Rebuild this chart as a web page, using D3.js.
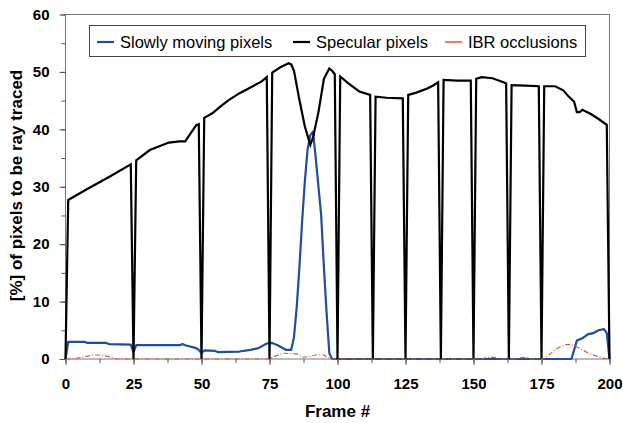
<!DOCTYPE html>
<html>
<head>
<meta charset="utf-8">
<script src="https://cdn.jsdelivr.net/npm/d3@7"></script>
<style>
    body { margin: 0; background: #fff; }
    text { font-family: "Liberation Sans", Arial, sans-serif; }
</style>
</head>
<body>
<script>
// data
var seriesNames = ["Slowly moving pixels", "Specular pixels", "IBR occlusions"];

var slowFrames = [0,1,7,8,15,16,24,25,26,42,43,44,48,49,50,51,55,56,64,68,71,74,76,78,81,83,84,85,86,87,88,89,90,91,92,93,94,95,96,97,98,186,188,190,192,194,196,198,199,200];
var slowValues = [0,3.0,3.0,2.8,2.8,2.6,2.5,1.2,2.4,2.4,2.6,2.4,1.9,1.6,1.0,1.5,1.4,1.2,1.3,1.6,1.9,2.7,2.8,2.4,1.6,1.6,3.8,9,16,24,31,36.5,39,39.6,35,30,25,16,8,1,0,0,3.2,3.6,4.3,4.5,5.0,5.2,4.5,0];

var specFrames = [0,1,8,16,24,25,26,31,38,42,44,46,48,49,50,51,54,57,60,64,68,72,74,75,76,79,82,83,84,86,88,90,91,93,95,97,98,99,100,101,104,108,112,113,114,118,124,125,126,129,133,135,137,138,139,144,149,150,151,153,157,161,162,163,164,169,174,175,176,180,183,185,187,188,189,190,193,196,199,200];
var specValues = [0,27.7,29.6,31.7,33.9,0,34.6,36.4,37.7,37.9,37.9,39.3,40.7,40.9,0,42.0,42.8,44.0,45.1,46.3,47.3,48.3,49.1,0,49.9,50.8,51.5,51.3,50.2,45.1,40.5,37.3,38.6,43.0,48.8,50.6,50.2,49.6,0,49.2,48.0,46.6,46.0,0,45.7,45.5,45.4,0,46.0,46.4,47.1,47.6,48.2,0,48.6,48.5,48.5,0,48.8,49.1,48.9,48.2,48.0,0,47.7,47.6,47.5,0,47.5,47.5,46.8,45.7,44.8,43.0,43.0,43.4,42.7,41.8,40.8,0];

var ibrFrames = [0,3,6,10,13,16,19,75,77,80,85,87,89,92,95,97,98,153,155,158,160,166,167,170,171,176,178,180,182,184,186,188,190,192,194,196,198,200];
var ibrValues = [0,0,0.3,0.7,0.7,0.4,0,0,0.5,1.0,0.9,0.3,0.4,0.7,0.7,0.1,0,0,0.3,0.3,0,0,0.25,0.25,0,0,0.8,1.6,2.2,2.5,2.5,2.1,1.6,1.1,0.7,0.4,0.1,0];

var xMajorTicks = [0,25,50,75,100,125,150,175,200];
var yMajorTicks = [0,10,20,30,40,50,60];

var width = 623;
var height = 423;
var margin = {top: 14.5, right: 13.5, bottom: 64, left: 65.5};
var innerWidth = width - margin.left - margin.right;
var innerHeight = height - margin.top - margin.bottom;

var colors = ["#1f4e9a", "#000000", "#e0553a"];

//Scales
var x = d3.scaleLinear().domain([0, 200]).range([0, innerWidth]);
var y = d3.scaleLinear().domain([0, 60]).range([innerHeight, 0]);

//Canvas
var svg = d3.select("body")
    .append("svg")
        .attr("width", width)
        .attr("height", height);

var g = svg.append("g")
    .attr("transform", "translate(" + margin.left + ", " + margin.top + ")");

// plot frame
g.append("rect")
    .attr("x", 0)
    .attr("y", 0)
    .attr("width", innerWidth)
    .attr("height", innerHeight)
    .attr("fill", "none")
    .attr("stroke", "#777")
    .attr("stroke-width", 1);

//Axes
var minorX = d3.range(0, 201, 12.5);
var minorY = d3.range(0, 61, 5);

g.append("g")
    .attr("class", "x-minor")
    .attr("transform", "translate(0, " + innerHeight + ")")
    .call(d3.axisBottom(x).tickValues(minorX).tickSize(4))
    .selectAll("text").remove();

g.append("g")
    .attr("class", "x-axis")
    .attr("transform", "translate(0, " + innerHeight + ")")
    .call(d3.axisBottom(x).tickValues(xMajorTicks).tickSize(6).tickPadding(13))
    .selectAll("text")
        .attr("font-size", 15)
        .attr("font-weight", "bold")
        .attr("fill", "#000");

g.append("g")
    .attr("class", "y-minor")
    .call(d3.axisLeft(y).tickValues(minorY).tickSize(4))
    .selectAll("text").remove();

g.append("g")
    .attr("class", "y-axis")
    .call(d3.axisLeft(y).tickValues(yMajorTicks).tickSize(6).tickPadding(10))
    .selectAll("text")
        .attr("font-size", 15)
        .attr("font-weight", "bold")
        .attr("fill", "#000");

g.selectAll(".domain").remove();
g.selectAll(".tick line").attr("stroke", "#555");

g.append("text")
    .attr("x", innerWidth / 2)
    .attr("y", 417 - margin.top)
    .attr("text-anchor", "middle")
    .attr("font-size", 17)
    .attr("font-weight", "bold")
    .text("Frame #");

g.append("text")
    .attr("transform", "rotate(-90)")
    .attr("x", -(185.5 - margin.top))
    .attr("y", 22 - margin.left)
    .attr("text-anchor", "middle")
    .attr("font-size", 17)
    .attr("font-weight", "bold")
    .text("[%] of pixels to be ray traced");

//Lines
function pairs(frames, values) {
    return frames.map((f, i) => ({frame: f, value: values[i]}));
}

var line = d3.line()
    .x(d => x(d.frame))
    .y(d => y(d.value));

g.append("path")
    .datum(pairs(slowFrames, slowValues))
    .attr("fill", "none")
    .attr("stroke", colors[0])
    .attr("stroke-width", 2.2)
    .attr("stroke-linejoin", "round")
    .attr("d", line);

g.append("path")
    .datum(pairs(specFrames, specValues))
    .attr("fill", "none")
    .attr("stroke", colors[1])
    .attr("stroke-width", 2.2)
    .attr("stroke-linejoin", "miter")
    .attr("d", line);

g.append("path")
    .datum(pairs(ibrFrames, ibrValues))
    .attr("fill", "none")
    .attr("stroke", colors[2])
    .attr("stroke-width", 1.2)
    .attr("stroke-dasharray", "5,2,1,2")
    .attr("d", line);

//Legend
var legend = svg.append("g").attr("class", "legend");

legend.append("rect")
    .attr("x", 89.5)
    .attr("y", 25.5)
    .attr("width", 496)
    .attr("height", 31)
    .attr("fill", "#fff")
    .attr("stroke", "#444")
    .attr("stroke-width", 1);

var legendX = [97, 293, 445];

seriesNames.forEach((name, i) => {
    legend.append("line")
        .attr("x1", legendX[i])
        .attr("x2", legendX[i] + 17)
        .attr("y1", 42)
        .attr("y2", 42)
        .attr("stroke", colors[i])
        .attr("stroke-width", i == 2 ? 1.5 : 2.2);
    legend.append("text")
        .attr("x", legendX[i] + 23)
        .attr("y", 47.5)
        .attr("font-size", 16.5)
        .attr("fill", "#000")
        .text(name);
});
</script>
</body>
</html>
